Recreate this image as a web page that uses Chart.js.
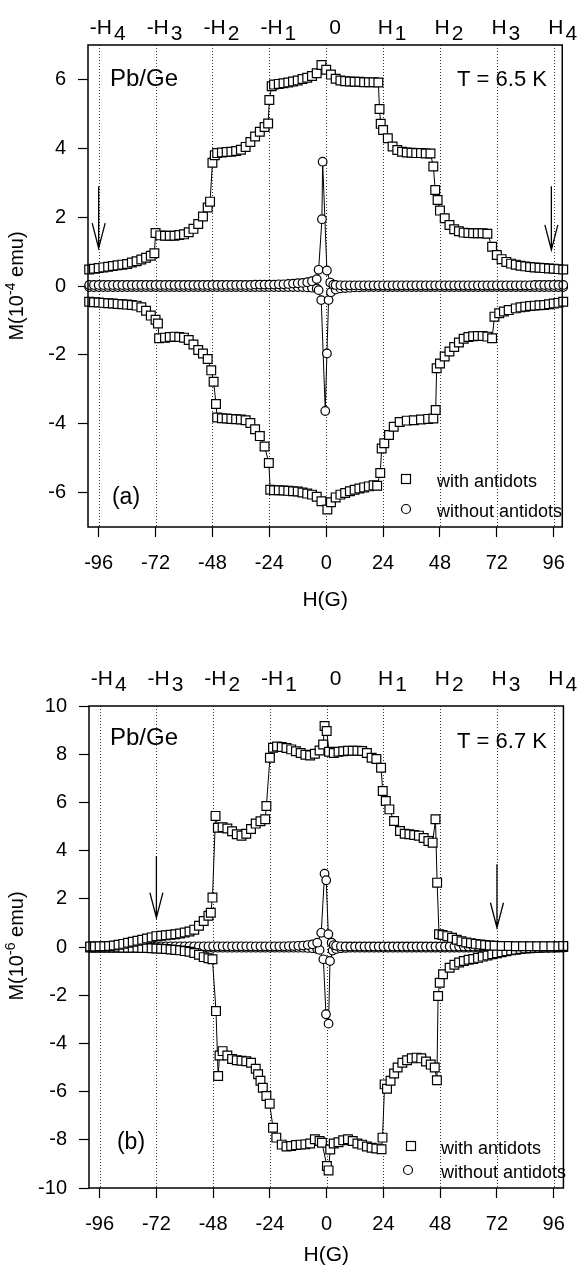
<!DOCTYPE html>
<html>
<head>
<meta charset="utf-8">
<script src="https://cdn.jsdelivr.net/npm/chart.js@4.4.0/dist/chart.umd.min.js"></script>
<style>
  html, body { margin: 0; padding: 0; background: #fff; }
  canvas { display: block; }
</style>
</head>
<body>
<canvas id="chartA" width="579" height="636"></canvas>
<canvas id="chartB" width="579" height="637"></canvas>
<script>
// field axis (G)
const fieldTicks = [-96, -72, -48, -24, 0, 24, 48, 72, 96];
const topLabels = [["-H", "4"], ["-H", "3"], ["-H", "2"], ["-H", "1"], ["0", ""], ["H", "1"], ["H", "2"], ["H", "3"], ["H", "4"]];
const ticksA = [-6, -4, -2, 0, 2, 4, 6];
const ticksB = [-10, -8, -6, -4, -2, 0, 2, 4, 6, 8, 10];

// (a) T = 6.5 K, with antidots, upper branch
const aUpH = [
  -100, -98, -96, -94, -92, -90, -88, -86, -84, -82,
  -80, -78, -76, -74, -72.5, -72, -70, -68, -66, -64,
  -62, -60, -58, -56, -54, -52, -50, -49, -48, -47,
  -46, -44, -42, -40, -38, -36, -34, -32, -30, -28,
  -26, -24.5, -24, -23, -22, -20, -18, -16, -14, -12,
  -10, -8, -6, -4, -2, 0, 2, 4, 6, 8,
  10, 12, 14, 16, 18, 20, 22, 22.5, 23, 24,
  26, 28, 30, 32, 34, 36, 38, 40, 42, 44,
  45.2, 46, 47, 48, 50, 52, 54, 56, 58, 60,
  62, 64, 66, 68, 70, 72, 74, 76, 78, 80,
  82, 84, 86, 88, 90, 92, 94, 96, 98, 100];
const aUpM = [
  0.48, 0.50, 0.52, 0.54, 0.56, 0.58, 0.60, 0.62, 0.64, 0.68,
  0.72, 0.77, 0.82, 0.88, 0.95, 1.54, 1.47, 1.46, 1.46, 1.46,
  1.48, 1.50, 1.56, 1.66, 1.80, 2.02, 2.28, 2.45, 3.58, 3.80,
  3.86, 3.88, 3.89, 3.90, 3.92, 3.96, 4.04, 4.18, 4.34, 4.48,
  4.62, 4.72, 5.40, 5.80, 5.85, 5.87, 5.89, 5.91, 5.94, 5.97,
  6.01, 6.05, 6.10, 6.18, 6.42, 6.28, 6.14, 6.02, 5.97, 5.95,
  5.94, 5.93, 5.93, 5.92, 5.92, 5.92, 5.91, 5.14, 4.71, 4.53,
  4.29, 4.05, 3.95, 3.90, 3.88, 3.87, 3.86, 3.86, 3.85, 3.85,
  3.47, 2.79, 2.50, 2.19, 1.97, 1.77, 1.65, 1.59, 1.55, 1.54,
  1.53, 1.53, 1.53, 1.52, 1.14, 0.90, 0.78, 0.70, 0.65, 0.62,
  0.59, 0.57, 0.55, 0.54, 0.53, 0.52, 0.51, 0.50, 0.49, 0.48];

// (a) with antidots, lower branch
const aLoH = [
  -100, -98, -96, -94, -92, -90, -88, -86, -84, -82,
  -80, -78, -76, -74, -72, -71, -70.5, -68, -66, -64,
  -62, -60, -58, -56, -54, -52, -50, -48.5, -47.5, -46.5,
  -46, -44, -42, -40, -38, -36, -34, -32, -30, -28,
  -26, -24.2, -23.6, -22, -20, -18, -16, -14, -12, -10,
  -8, -6, -4, -2, 0.5, 2, 4, 6, 8, 10,
  12, 14, 16, 18, 20, 21.5, 22.8, 23.4, 24.5, 26.5,
  28.5, 31, 34, 37, 40, 43, 45.2, 46.2, 46.6, 48,
  50, 52, 54, 56, 58, 60, 62, 64, 66, 68,
  70, 71, 73, 75, 77, 80, 82, 84, 86, 88,
  90, 92, 94, 96, 98, 100];
const aLoM = [
  -0.46, -0.47, -0.48, -0.49, -0.50, -0.51, -0.52, -0.53, -0.54, -0.55,
  -0.57, -0.62, -0.72, -0.86, -0.98, -1.09, -1.52, -1.50, -1.48, -1.47,
  -1.48, -1.50, -1.57, -1.70, -1.86, -1.96, -2.12, -2.45, -2.78, -3.43,
  -3.82, -3.84, -3.85, -3.86, -3.87, -3.88, -3.90, -3.98, -4.16, -4.36,
  -4.66, -5.14, -5.92, -5.93, -5.93, -5.94, -5.95, -5.96, -5.97, -6.00,
  -6.03, -6.06, -6.12, -6.25, -6.49, -6.28, -6.14, -6.06, -6.01, -5.96,
  -5.92, -5.88, -5.85, -5.82, -5.79, -5.80, -5.43, -4.72, -4.57, -4.33,
  -4.09, -3.95, -3.91, -3.90, -3.88, -3.86, -3.85, -3.60, -2.39, -2.25,
  -2.05, -1.90, -1.77, -1.64, -1.53, -1.48, -1.46, -1.45, -1.45, -1.47,
  -1.52, -0.89, -0.79, -0.74, -0.70, -0.65, -0.62, -0.60, -0.58, -0.57,
  -0.56, -0.55, -0.53, -0.51, -0.49, -0.46];

// (a) without antidots
const aCircUpH = [
  -100, -98, -96, -94, -92, -90, -88, -86, -84, -82,
  -80, -78, -76, -74, -72, -70, -68, -66, -64, -62,
  -60, -58, -56, -54, -52, -50, -48, -46, -44, -42,
  -40, -38, -36, -34, -32, -30, -28, -26, -24, -22,
  -20, -18, -16, -14, -12, -10, -8, -6, -4, -3.2,
  -1.8, -1.5, 0.3, 1.7, 3, 4, 6, 8, 10, 12,
  14, 16, 18, 20, 22, 24, 26, 28, 30, 32,
  34, 36, 38, 40, 42, 44, 46, 48, 50, 52,
  54, 56, 58, 60, 62, 64, 66, 68, 70, 72,
  74, 76, 78, 80, 82, 84, 86, 88, 90, 92,
  94, 96, 98, 100];
const aCircUpM = [
  0.03, 0.03, 0.03, 0.03, 0.03, 0.03, 0.03, 0.03, 0.03, 0.03,
  0.03, 0.03, 0.03, 0.03, 0.03, 0.03, 0.03, 0.03, 0.03, 0.03,
  0.03, 0.03, 0.03, 0.03, 0.03, 0.03, 0.03, 0.03, 0.03, 0.03,
  0.03, 0.03, 0.03, 0.03, 0.03, 0.04, 0.04, 0.04, 0.04, 0.04,
  0.05, 0.05, 0.06, 0.07, 0.08, 0.09, 0.11, 0.14, 0.20, 0.47,
  1.94, 3.61, 0.45, 0.10, 0.04, 0.03, 0.02, 0.02, 0.02, 0.02,
  0.02, 0.02, 0.02, 0.02, 0.02, 0.02, 0.02, 0.02, 0.02, 0.02,
  0.02, 0.02, 0.02, 0.02, 0.02, 0.02, 0.02, 0.02, 0.02, 0.02,
  0.02, 0.02, 0.02, 0.02, 0.02, 0.02, 0.02, 0.02, 0.02, 0.02,
  0.02, 0.02, 0.02, 0.02, 0.02, 0.02, 0.02, 0.03, 0.03, 0.03,
  0.03, 0.03, 0.03, 0.03];
const aCircLoH = [
  -100, -98, -96, -94, -92, -90, -88, -86, -84, -82,
  -80, -78, -76, -74, -72, -70, -68, -66, -64, -62,
  -60, -58, -56, -54, -52, -50, -48, -46, -44, -42,
  -40, -38, -36, -34, -32, -30, -28, -26, -24, -22,
  -20, -18, -16, -14, -12, -10, -8, -6, -4, -3.2,
  -2.1, -0.4, 0.3, 1, 2, 4, 6, 8, 10, 12,
  14, 16, 18, 20, 22, 24, 26, 28, 30, 32,
  34, 36, 38, 40, 42, 44, 46, 48, 50, 52,
  54, 56, 58, 60, 62, 64, 66, 68, 70, 72,
  74, 76, 78, 80, 82, 84, 86, 88, 90, 92,
  94, 96, 98, 100];
const aCircLoM = [
  -0.03, -0.03, -0.03, -0.03, -0.03, -0.03, -0.03, -0.03, -0.03, -0.03,
  -0.03, -0.03, -0.03, -0.03, -0.03, -0.03, -0.03, -0.03, -0.03, -0.03,
  -0.03, -0.03, -0.03, -0.03, -0.03, -0.03, -0.03, -0.03, -0.03, -0.03,
  -0.03, -0.03, -0.03, -0.03, -0.03, -0.03, -0.03, -0.03, -0.03, -0.03,
  -0.03, -0.03, -0.03, -0.03, -0.03, -0.03, -0.04, -0.05, -0.07, -0.12,
  -0.41, -3.63, -1.96, -0.41, -0.18, -0.10, -0.07, -0.06, -0.05, -0.04,
  -0.04, -0.03, -0.03, -0.03, -0.03, -0.03, -0.03, -0.03, -0.03, -0.03,
  -0.03, -0.03, -0.03, -0.03, -0.03, -0.03, -0.03, -0.03, -0.03, -0.03,
  -0.03, -0.03, -0.03, -0.03, -0.03, -0.03, -0.03, -0.03, -0.03, -0.03,
  -0.03, -0.03, -0.03, -0.03, -0.03, -0.03, -0.03, -0.03, -0.03, -0.03,
  -0.03, -0.03, -0.03, -0.03];

// (b) T = 6.7 K, with antidots, upper branch
const bUpH = [
  -100, -98, -96, -94, -92, -90, -88, -86, -84, -82,
  -80, -78, -76, -74, -72, -70, -68, -66, -64, -62,
  -60, -58, -56, -54, -52, -50, -49, -48.3, -47, -46,
  -44, -42, -40, -38, -36, -34, -32, -30, -28, -26,
  -25.5, -24, -22.7, -21, -19, -17, -15, -13, -11, -9,
  -7, -5, -3, -1.5, -0.9, 0, 1, 3, 5, 7,
  9, 11, 13, 15, 17, 19, 21, 23, 23.7, 25,
  26.5, 28.5, 31, 33, 35, 37, 39, 41, 43, 44.8,
  46, 46.7, 47.5, 49, 51, 53, 55, 57, 59, 61,
  63, 65, 67, 69, 71, 74, 77, 80, 83, 86,
  89, 92, 95, 98, 100];
const bUpM = [
  0.02, 0.02, 0.03, 0.03, 0.04, 0.06, 0.09, 0.13, 0.18, 0.22,
  0.26, 0.30, 0.35, 0.40, 0.45, 0.47, 0.49, 0.51, 0.53, 0.56,
  0.60, 0.64, 0.72, 0.88, 1.08, 1.30, 1.42, 2.05, 5.44, 4.95,
  4.97, 4.92, 4.80, 4.68, 4.62, 4.70, 4.90, 5.12, 5.22, 5.30,
  5.85, 7.85, 8.27, 8.32, 8.30, 8.26, 8.20, 8.12, 8.05, 7.98,
  7.95, 8.02, 8.15, 8.40, 9.17, 8.96, 8.10, 8.05, 8.10, 8.12,
  8.14, 8.14, 8.14, 8.13, 8.05, 7.85, 7.80, 7.44, 6.47, 6.06,
  5.71, 5.23, 4.81, 4.70, 4.68, 4.65, 4.62, 4.52, 4.40, 4.33,
  5.30, 2.67, 0.53, 0.50, 0.45, 0.38, 0.30, 0.24, 0.19, 0.16,
  0.13, 0.10, 0.08, 0.06, 0.05, 0.04, 0.04, 0.03, 0.03, 0.03,
  0.03, 0.03, 0.03, 0.03, 0.04];

// (b) with antidots, lower branch
const bLoH = [
  -100, -98, -96, -94, -92, -90, -88, -86, -84, -82,
  -80, -78, -76, -74, -72, -70, -68, -66, -64, -62,
  -60, -58, -56, -54, -52, -50, -48.3, -46.8, -45.9, -45.3,
  -44, -42, -40, -38, -36, -34, -32, -30, -29, -28,
  -27, -25.5, -24.1, -22.7, -21.3, -19, -17, -15, -13, -11,
  -9, -7, -5, -3, -2, 0.1, 0.8, 1.5, 3, 5,
  7, 9, 11, 13, 15, 17, 19, 21, 23.2, 23.6,
  24.5, 25.5, 27, 28.5, 30, 32, 34, 36, 38, 40,
  42, 44, 45.7, 46.6, 47.1, 47.8, 49.2, 52, 54, 56,
  58, 60, 62, 64, 66, 68, 70, 72, 74, 76,
  78, 80, 82, 84, 86, 88, 90, 92, 95, 98,
  100];
const bLoM = [
  -0.02, -0.02, -0.02, -0.02, -0.02, -0.02, -0.02, -0.03, -0.03, -0.03,
  -0.03, -0.04, -0.04, -0.05, -0.06, -0.07, -0.08, -0.10, -0.12, -0.14,
  -0.17, -0.20, -0.25, -0.32, -0.42, -0.47, -0.51, -2.66, -5.35, -4.50,
  -4.32, -4.50, -4.65, -4.70, -4.72, -4.74, -4.80, -5.05, -5.28, -5.55,
  -5.84, -6.18, -6.50, -7.50, -7.91, -8.20, -8.28, -8.26, -8.22, -8.20,
  -8.19, -8.15, -7.98, -8.05, -8.12, -9.09, -9.27, -8.40, -8.15, -8.10,
  -8.02, -7.98, -8.05, -8.15, -8.20, -8.28, -8.33, -8.36, -8.39, -7.91,
  -5.70, -5.88, -5.55, -5.25, -5.00, -4.80, -4.70, -4.62, -4.59, -4.62,
  -4.75, -4.88, -5.00, -5.53, -2.03, -1.48, -1.13, -0.86, -0.74, -0.64,
  -0.58, -0.53, -0.50, -0.45, -0.40, -0.35, -0.30, -0.26, -0.22, -0.18,
  -0.14, -0.11, -0.08, -0.06, -0.05, -0.04, -0.03, -0.02, -0.02, -0.01,
  0.00];

// (b) without antidots
const bCircUpH = [
  -100, -98, -96, -94, -92, -90, -88, -86, -84, -82,
  -80, -78, -76, -74, -72, -70, -68, -66, -64, -62,
  -60, -58, -56, -54, -52, -50, -48, -46, -44, -42,
  -40, -38, -36, -34, -32, -30, -28, -26, -24, -22,
  -20, -18, -16, -14, -12, -10, -8, -6, -4, -2.3,
  -0.9, -0.2, 0.7, 2.1, 3, 4, 6, 8, 10, 12,
  14, 16, 18, 20, 22, 24, 26, 28, 30, 32,
  34, 36, 38, 40, 42, 44, 46, 48, 50, 52,
  54, 56, 58, 60, 62, 64, 66, 68, 70, 72,
  74, 76, 78, 80, 82, 84, 86, 88, 90, 92,
  94, 96, 98, 100];
const bCircUpM = [
  0.03, 0.03, 0.03, 0.03, 0.03, 0.03, 0.03, 0.03, 0.03, 0.03,
  0.03, 0.03, 0.03, 0.03, 0.03, 0.03, 0.03, 0.03, 0.03, 0.03,
  0.03, 0.03, 0.03, 0.03, 0.03, 0.03, 0.03, 0.03, 0.03, 0.03,
  0.03, 0.03, 0.03, 0.03, 0.03, 0.03, 0.03, 0.03, 0.03, 0.03,
  0.03, 0.03, 0.04, 0.04, 0.05, 0.06, 0.08, 0.11, 0.18, 0.59,
  3.04, 2.77, 0.53, 0.18, 0.08, 0.05, 0.03, 0.02, 0.02, 0.02,
  0.02, 0.02, 0.02, 0.02, 0.02, 0.02, 0.02, 0.02, 0.02, 0.02,
  0.02, 0.02, 0.02, 0.02, 0.02, 0.02, 0.02, 0.02, 0.02, 0.02,
  0.02, 0.02, 0.02, 0.02, 0.02, 0.02, 0.02, 0.02, 0.02, 0.02,
  0.02, 0.02, 0.02, 0.02, 0.02, 0.02, 0.02, 0.02, 0.02, 0.02,
  0.02, 0.02, 0.02, 0.02];
const bCircLoH = [
  -100, -98, -96, -94, -92, -90, -88, -86, -84, -82,
  -80, -78, -76, -74, -72, -70, -68, -66, -64, -62,
  -60, -58, -56, -54, -52, -50, -48, -46, -44, -42,
  -40, -38, -36, -34, -32, -30, -28, -26, -24, -22,
  -20, -18, -16, -14, -12, -10, -8, -6, -4, -3,
  -1.4, -0.3, 0.8, 1.4, 2.5, 4, 6, 8, 10, 12,
  14, 16, 18, 20, 22, 24, 26, 28, 30, 32,
  34, 36, 38, 40, 42, 44, 46, 48, 50, 52,
  54, 56, 58, 60, 62, 64, 66, 68, 70, 72,
  74, 76, 78, 80, 82, 84, 86, 88, 90, 92,
  94, 96, 98, 100];
const bCircLoM = [
  -0.03, -0.03, -0.03, -0.03, -0.03, -0.03, -0.03, -0.03, -0.03, -0.03,
  -0.03, -0.03, -0.03, -0.03, -0.03, -0.03, -0.03, -0.03, -0.03, -0.03,
  -0.03, -0.03, -0.03, -0.03, -0.03, -0.03, -0.03, -0.03, -0.03, -0.03,
  -0.03, -0.03, -0.03, -0.03, -0.03, -0.03, -0.03, -0.03, -0.03, -0.03,
  -0.03, -0.03, -0.03, -0.03, -0.03, -0.03, -0.04, -0.05, -0.08, -0.12,
  -0.51, -2.79, -3.18, -0.58, -0.15, -0.08, -0.05, -0.04, -0.03, -0.03,
  -0.03, -0.03, -0.03, -0.03, -0.03, -0.03, -0.03, -0.03, -0.03, -0.03,
  -0.03, -0.03, -0.03, -0.03, -0.03, -0.03, -0.03, -0.03, -0.03, -0.03,
  -0.03, -0.03, -0.03, -0.03, -0.03, -0.03, -0.03, -0.03, -0.03, -0.03,
  -0.03, -0.03, -0.03, -0.03, -0.03, -0.03, -0.03, -0.03, -0.03, -0.03,
  -0.03, -0.03, -0.03, -0.03];

// arrows (field, start, tip)
const arrowsAH = [-96, 95];
const arrowsATop = [2.9, 2.9];
const arrowsATip = [1.1, 1.05];
const arrowsBH = [-72, 72];
const arrowsBTop = [3.78, 3.43];
const arrowsBTip = [1.22, 0.8];

const FONT = "'Liberation Sans', Arial, Helvetica, sans-serif";

// per panel layout / texts
const panels = {
  chartA: {
    tag: "(a)", temp: "T = 6.5 K", exp: "-4",
    arrowH: arrowsAH, arrowTop: arrowsATop, arrowTip: arrowsATip,
    topBase: 34, pbY: 79, tY: 80, tagPos: [126, 498],
    legSq: [406, 479], legCi: [406, 509], legX: 437,
    xTitleY: 600, yTitle: [17, 286]
  },
  chartB: {
    tag: "(b)", temp: "T = 6.7 K", exp: "-6",
    arrowH: arrowsBH, arrowTop: arrowsBTop, arrowTip: arrowsBTip,
    topBase: 49, pbY: 102, tY: 106, tagPos: [131, 507],
    legSq: [411, 510], legCi: [408, 534], legX: 441,
    xTitleY: 619, yTitle: [17, 310]
  }
};

function pts(h, m) {
  return h.map((v, i) => ({ x: v, y: m[i] }));
}

function squares(h, m) {
  return {
    data: pts(h, m), showLine: true, borderColor: "#000", borderWidth: 1,
    pointStyle: "rect", pointRadius: 6.2, pointBackgroundColor: "#fff",
    pointBorderColor: "#000", pointBorderWidth: 1.2, clip: false, tension: 0
  };
}

function circles(h, m) {
  return {
    data: pts(h, m), showLine: true, borderColor: "#000", borderWidth: 1,
    pointStyle: "circle", pointRadius: 4.3, pointBackgroundColor: "#fff",
    pointBorderColor: "#000", pointBorderWidth: 1.2, clip: false, tension: 0
  };
}

function square(ctx, x, y) {
  ctx.fillStyle = "#fff";
  ctx.fillRect(x - 4.5, y - 4.5, 9, 9);
  ctx.strokeRect(x - 4.5, y - 4.5, 9, 9);
}

function circle(ctx, x, y) {
  ctx.beginPath();
  ctx.arc(x, y, 4.5, 0, Math.PI * 2);
  ctx.fillStyle = "#fff";
  ctx.fill();
  ctx.stroke();
}

const decor = {
  id: "decor",
  beforeDatasetsDraw(chart) {
    const { ctx, chartArea: a } = chart;
    const x = chart.scales.x;
    ctx.save();
    ctx.strokeStyle = "#333";
    ctx.lineWidth = 1;
    ctx.setLineDash([1, 2]);
    fieldTicks.forEach(v => {
      const px = Math.round(x.getPixelForValue(v)) + 0.5;
      ctx.beginPath();
      ctx.moveTo(px, a.top);
      ctx.lineTo(px, a.bottom);
      ctx.stroke();
    });
    ctx.restore();
  },
  afterDatasetsDraw(chart) {
    const p = panels[chart.canvas.id];
    const { ctx, chartArea: a } = chart;
    const x = chart.scales.x, y = chart.scales.y;
    ctx.save();
    // frame
    ctx.strokeStyle = "#000";
    ctx.lineWidth = 1.5;
    ctx.strokeRect(a.left, a.top, a.right - a.left, a.bottom - a.top);

    // arrows
    ctx.lineWidth = 1.3;
    p.arrowH.forEach((h, i) => {
      const px = x.getPixelForValue(h);
      const y0 = y.getPixelForValue(p.arrowTop[i]);
      const y1 = y.getPixelForValue(p.arrowTip[i]);
      ctx.beginPath();
      ctx.moveTo(px, y0);
      ctx.lineTo(px, y1);
      ctx.moveTo(px - 6.5, y1 - 25);
      ctx.lineTo(px, y1);
      ctx.lineTo(px + 6.5, y1 - 25);
      ctx.stroke();
    });

    ctx.fillStyle = "#000";
    ctx.textBaseline = "alphabetic";
    ctx.textAlign = "left";

    // top field labels with subscripts
    ctx.font = "21px " + FONT;
    topLabels.forEach((lab, i) => {
      const gx = x.getPixelForValue(fieldTicks[i]);
      const w1 = ctx.measureText(lab[0]).width;
      const w2 = lab[1] ? ctx.measureText(lab[1]).width + 2 : 0;
      const total = w1 + w2;
      let left = gx + 9 - total / 2;
      if (left + total > 578) left = 578 - total;
      ctx.fillText(lab[0], left, p.topBase);
      if (lab[1]) ctx.fillText(lab[1], left + w1 + 2, p.topBase + 6);
    });

    ctx.textBaseline = "middle";
    ctx.textAlign = "center";
    ctx.font = "24px " + FONT;
    ctx.fillText("Pb/Ge", 144, p.pbY);
    ctx.font = "22px " + FONT;
    ctx.fillText(p.temp, 502, p.tY);
    ctx.font = "23px " + FONT;
    ctx.fillText(p.tag, p.tagPos[0], p.tagPos[1]);

    // x title
    ctx.font = "21px " + FONT;
    ctx.fillText("H(G)", (a.left + a.right) / 2, p.xTitleY);

    // legend
    ctx.lineWidth = 1.2;
    ctx.strokeStyle = "#000";
    square(ctx, p.legSq[0], p.legSq[1]);
    circle(ctx, p.legCi[0], p.legCi[1]);
    ctx.fillStyle = "#000";
    ctx.textAlign = "left";
    ctx.font = "18px " + FONT;
    ctx.fillText("with antidots", p.legX, p.legSq[1] + 3);
    ctx.fillText("without antidots", p.legX, p.legCi[1] + 3);

    // y title with exponent
    ctx.translate(p.yTitle[0], p.yTitle[1]);
    ctx.rotate(-Math.PI / 2);
    ctx.font = "20px " + FONT;
    const s1 = "M(10", s3 = " emu)";
    const w1 = ctx.measureText(s1).width, w3 = ctx.measureText(s3).width;
    ctx.font = "14px " + FONT;
    const w2 = ctx.measureText(p.exp).width;
    let x0 = -(w1 + w2 + w3) / 2;
    ctx.font = "20px " + FONT;
    ctx.fillText(s1, x0, 0);
    ctx.font = "14px " + FONT;
    ctx.fillText(p.exp, x0 + w1, -6);
    ctx.font = "20px " + FONT;
    ctx.fillText(s3, x0 + w1 + w2, 0);
    ctx.restore();
  }
};

function makeChart(id, sets, yTicks, yMin, yMax, xMin, xMax, pad, yWidth, xHeight) {
  return new Chart(document.getElementById(id), {
    type: "scatter",
    data: { datasets: sets },
    options: {
      responsive: false,
      animation: false,
      devicePixelRatio: 1,
      events: [],
      layout: { padding: pad },
      plugins: { legend: { display: false }, tooltip: { enabled: false } },
      scales: {
        x: {
          type: "linear", min: xMin, max: xMax,
          afterBuildTicks: s => { s.ticks = fieldTicks.map(v => ({ value: v })); },
          afterFit: s => { s.height = xHeight; },
          ticks: { font: { family: FONT, size: 20 }, color: "#000", padding: 14, maxRotation: 0, autoSkip: false, callback: v => String(v) },
          grid: { drawOnChartArea: false, drawTicks: true, tickLength: 10, tickColor: "#000", tickWidth: 1.2 },
          border: { display: false }
        },
        y: {
          type: "linear", min: yMin, max: yMax,
          afterBuildTicks: s => { s.ticks = yTicks.map(v => ({ value: v })); },
          afterFit: s => { s.width = yWidth; },
          ticks: { font: { family: FONT, size: 20 }, color: "#000", padding: 12, autoSkip: false, callback: v => String(v) },
          grid: { drawOnChartArea: false, drawTicks: true, tickLength: 10, tickColor: "#000", tickWidth: 1.2 },
          border: { display: false }
        }
      }
    },
    plugins: [decor]
  });
}

makeChart("chartA",
  [squares(aUpH, aUpM), squares(aLoH, aLoM), circles(aCircUpH, aCircUpM), circles(aCircLoH, aCircLoM)],
  ticksA, -7, 7, -100.5, 99.6, { top: 45, right: 8, left: 0, bottom: 0 }, 88, 109);

makeChart("chartB",
  [squares(bUpH, bUpM), squares(bLoH, bLoM), circles(bCircUpH, bCircUpM), circles(bCircLoH, bCircLoM)],
  ticksB, -10, 10, -100.5, 100.1, { top: 70, right: 6, left: 0, bottom: 0 }, 89, 85);
</script>
</body>
</html>
